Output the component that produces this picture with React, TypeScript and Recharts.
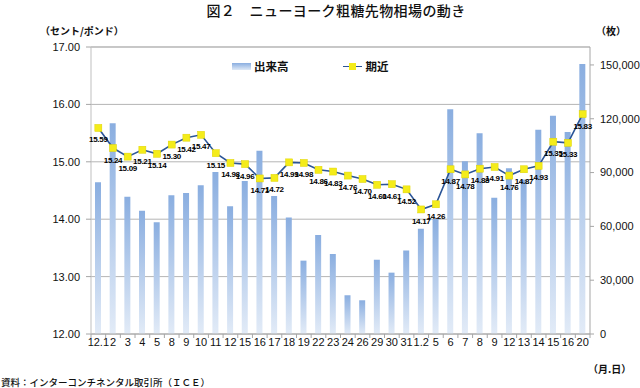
import React from 'react';
import { ComposedChart, Bar, Line, XAxis, YAxis, CartesianGrid, LabelList } from 'recharts';

const dates = ['12.1','2','3','4','5','8','9','10','11','12','15','16','17','18','19','22','23','24','26','29','30','31','1.2','5','6','7','8','9','12','13','14','15','16','20'];
const volumes = [84600,117500,76500,68700,62300,77300,78600,82900,90300,71200,85300,102200,76900,65000,40900,55200,44600,21600,18800,41400,34200,46600,58700,64100,125300,96300,111900,76000,92400,86200,113900,121700,112600,150500];
const prices = [15.59,15.24,15.09,15.21,15.14,15.30,15.42,15.47,15.15,14.98,14.96,14.71,14.72,14.99,14.98,14.86,14.83,14.76,14.70,14.60,14.61,14.52,14.17,14.26,14.87,14.78,14.88,14.91,14.76,14.87,14.93,15.35,15.33,15.83];
const leftTicks = [12, 13, 14, 15, 16, 17];
const rightTicks = [0, 30000, 60000, 90000, 120000, 150000];

const data = dates.map((d, i) => ({ i, date: d, volume: volumes[i], price: prices[i] }));

const W = 640, H = 388;
const M = { top: 47, right: 0, bottom: 30, left: 0 };
const LEFT_W = 91, RIGHT_W = 50;
const plotW = W - LEFT_W - RIGHT_W;
const band = plotW / dates.length;
const tickFont = '"Liberation Sans", Arial, sans-serif';
const cjk = '"Noto Sans CJK JP", sans-serif';

const XTick = (props: any) => {
  const { x, y, payload, index } = props;
  const axisY = y - 4;
  const isLast = index === dates.length - 1;
  return (
    <g>
      <line x1={x - band / 2} x2={x - band / 2} y1={axisY} y2={axisY + 4} stroke="#a6a6a6" />
      {isLast && <line x1={x + band / 2} x2={x + band / 2} y1={axisY} y2={axisY + 4} stroke="#a6a6a6" />}
      <text x={x} y={y + 8} textAnchor="middle" fontSize={11} fontFamily={tickFont} fill="#111">
        {dates[payload.value]}
      </text>
    </g>
  );
};

const Dot = (props: any) => {
  const { cx, cy } = props;
  if (cx == null || cy == null) return null;
  return <rect x={cx - 3.5} y={cy - 3.5} width={7} height={7} fill="#f4ec1a" stroke="#e0d400" strokeWidth={0.5} />;
};

const PriceLabel = (props: any) => {
  const { x, y, value } = props;
  return (
    <text x={x} y={y + 12} textAnchor="middle" dominantBaseline="central" fontSize={8} fontWeight="bold"
      fontFamily={tickFont} letterSpacing={-0.3} fill="#000">
      {Number(value).toFixed(2)}
    </text>
  );
};

export default function App() {
  return (
    <div style={{ position: 'absolute', left: 0, top: 0, width: W, height: H, background: '#fff', overflow: 'hidden' }}>
      <ComposedChart width={W} height={H} data={data} margin={M}>
        <defs>
          <linearGradient id="barGrad" x1="0" y1="0" x2="0" y2="1">
            <stop offset="0%" stopColor="#8aaee0" />
            <stop offset="100%" stopColor="#e2ebf7" />
          </linearGradient>
        </defs>
        <CartesianGrid yAxisId="left" vertical={false} stroke="#b5b5b5" />
        <XAxis dataKey="i" type="category" interval={0} tick={<XTick />} tickLine={false}
          axisLine={{ stroke: '#a6a6a6' }} height={24} tickSize={4} tickMargin={0} />
        <YAxis yAxisId="left" orientation="left" domain={[12, 17]} ticks={leftTicks} width={LEFT_W}
          tickFormatter={(v: number) => v.toFixed(2)} axisLine={{ stroke: '#bfbfbf' }}
          tickLine={{ stroke: '#a6a6a6' }} tickSize={5} tickMargin={6}
          tick={{ fontSize: 11, fontFamily: tickFont, fill: '#111' }} allowDataOverflow />
        <YAxis yAxisId="right" orientation="right" domain={[0, 160000]} ticks={rightTicks} width={RIGHT_W}
          tickFormatter={(v: number) => v.toLocaleString('en-US')} axisLine={{ stroke: '#a6a6a6' }}
          tickLine={{ stroke: '#a6a6a6' }} tickSize={4} tickMargin={6}
          tick={{ fontSize: 11, fontFamily: tickFont, fill: '#111', textAnchor: 'start' }} allowDataOverflow />
        <Bar yAxisId="right" dataKey="volume" barSize={6} fill="url(#barGrad)" isAnimationActive={false} />
        <Line yAxisId="left" dataKey="price" type="linear" stroke="#2b5597" strokeWidth={1.6}
          dot={<Dot />} activeDot={false} isAnimationActive={false}>
          <LabelList dataKey="price" content={<PriceLabel />} />
        </Line>
        <line x1={LEFT_W} x2={W - RIGHT_W} y1={M.top} y2={M.top} stroke="#b5b5b5" />
      </ComposedChart>

      <div style={{ position: 'absolute', left: 0, width: 672, top: 1, textAlign: 'center', fontFamily: cjk, fontSize: 14, fontWeight: 500, letterSpacing: 0.4, color: '#111', lineHeight: '18px' }}>
        図２　ニューヨーク粗糖先物相場の動き
      </div>
      <div style={{ position: 'absolute', left: 40, top: 23, fontFamily: cjk, fontSize: 10, fontWeight: 700, color: '#111', lineHeight: '16px' }}>
        （セント/ポンド）
      </div>
      <div style={{ position: 'absolute', left: 596, top: 23, fontFamily: cjk, fontSize: 10, fontWeight: 700, color: '#111', lineHeight: '16px' }}>
        （枚）
      </div>
      <div style={{ position: 'absolute', left: 588, top: 361, fontFamily: cjk, fontSize: 10, fontWeight: 700, color: '#111', lineHeight: '16px' }}>
        （月.日）
      </div>
      <div style={{ position: 'absolute', left: 1, top: 374, fontFamily: cjk, fontSize: 9.5, fontWeight: 500, color: '#111', lineHeight: '16px' }}>
        資料：インターコンチネンタル取引所（ＩＣＥ）
      </div>

      <div style={{ position: 'absolute', left: 232, top: 58, display: 'flex', alignItems: 'center', fontFamily: cjk, fontSize: 11.5, fontWeight: 700, color: '#111', lineHeight: '16px' }}>
        <div style={{ width: 19, height: 7, background: 'linear-gradient(#8aaee0, #dfe9f6)', marginRight: 3 }} />
        <span>出来高</span>
        <div style={{ position: 'relative', width: 19, height: 7, marginLeft: 54, marginRight: 4 }}>
          <div style={{ position: 'absolute', left: 0, top: 3, width: 19, height: 1.6, background: '#2b5597' }} />
          <div style={{ position: 'absolute', left: 6, top: 0, width: 7, height: 7, background: '#f4ec1a' }} />
        </div>
        <span>期近</span>
      </div>
    </div>
  );
}
